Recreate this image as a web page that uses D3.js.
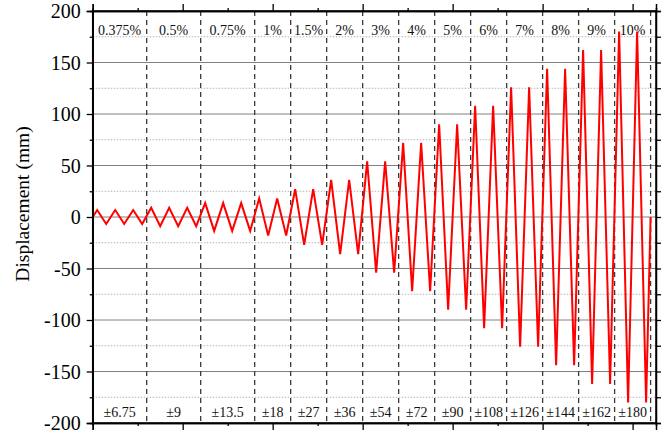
<!DOCTYPE html>
<html>
<head>
<meta charset="utf-8">
<script src="https://cdn.jsdelivr.net/npm/d3@7"></script>
</head>
<body style="margin:0">
<svg id="chart" width="672" height="434"></svg>
<script>
// loading protocol
const stages = ['0.375%', '0.5%', '0.75%', '1%', '1.5%', '2%', '3%', '4%', '5%', '6%', '7%', '8%', '9%', '10%'];
const amplitudes = [6.75, 9, 13.5, 18, 27, 36, 54, 72, 90, 108, 126, 144, 162, 180];
const ampLabels = ['±6.75', '±9', '±13.5', '±18', '±27', '±36', '±54', '±72', '±90', '±108', '±126', '±144', '±162', '±180'];
const cyclesPerStage = [3, 3, 3, 2, 2, 2, 2, 2, 2, 2, 2, 2, 2, 2];
const yTicks = [-200, -150, -100, -50, 0, 50, 100, 150, 200];
const yMinorTicks = [-175, -125, -75, -25, 25, 75, 125, 175];
const xTicks = [0, 5, 10, 15, 20, 25, 30];
const xMinorTicks = [2.5, 7.5, 12.5, 17.5, 22.5, 27.5];

const plot = { left: 92.7, right: 656, top: 11, bottom: 423 };
const serif = '"Liberation Serif"';

const svg = d3.select('#chart')
    .style('font-family', serif);

const xScale = d3.scaleLinear().domain([0, 31.3]).range([plot.left, plot.right]);
const yScale = d3.scaleLinear().domain([-200, 200]).range([plot.bottom, plot.top]);

// stage boundaries in cycle units
let bounds = [0];
cyclesPerStage.forEach(c => bounds.push(bounds[bounds.length - 1] + c));

// displacement history: each cycle peaks at +A at 1/4 and -A at 3/4
let points = [{ x: 0, y: 0 }];
stages.forEach((s, i) => {
    for (let k = 0; k < cyclesPerStage[i]; k++) {
        const start = bounds[i] + k;
        points.push({ x: start + 0.25, y: amplitudes[i] });
        points.push({ x: start + 0.75, y: -amplitudes[i] });
    }
});
points.push({ x: bounds[bounds.length - 1], y: 0 });

function addLabel(g, x, y, txt, size) {
    return g.append('text')
        .attr('x', x)
        .attr('y', y)
        .style('font-family', serif)
        .style('font-size', size)
        .text(txt);
}

function drawGrid() {
    svg.append('g')
        .selectAll('line')
        .data(yMinorTicks)
        .join('line')
        .attr('x1', plot.left)
        .attr('x2', plot.right)
        .attr('y1', d => yScale(d))
        .attr('y2', d => yScale(d))
        .attr('stroke', '#b4b4b4')
        .attr('stroke-width', 1)
        .attr('stroke-dasharray', '1.5,1.5');

    svg.append('g')
        .selectAll('line')
        .data(yTicks.filter(d => d > -200 && d < 200))
        .join('line')
        .attr('x1', plot.left)
        .attr('x2', plot.right)
        .attr('y1', d => yScale(d))
        .attr('y2', d => yScale(d))
        .attr('stroke', '#808080')
        .attr('stroke-width', 1);
}

function drawStageLines() {
    svg.append('g')
        .selectAll('line')
        .data(bounds.slice(1))
        .join('line')
        .attr('x1', d => xScale(d))
        .attr('x2', d => xScale(d))
        .attr('y1', plot.top)
        .attr('y2', plot.bottom)
        .attr('stroke', '#3a3a3a')
        .attr('stroke-width', 1.3)
        .attr('stroke-dasharray', '5,4');
}

function drawStageLabels() {
    const g = svg.append('g').attr('text-anchor', 'middle').attr('fill', '#111');
    stages.forEach((s, i) => {
        const xm = xScale((bounds[i] + bounds[i + 1]) / 2);
        addLabel(g, xm, 35, s, '14px');
        addLabel(g, xm, 416.5, ampLabels[i], '14px');
    });
}

function drawSeries() {
    const line = d3.line()
        .x(d => xScale(d.x))
        .y(d => yScale(d.y));

    svg.append('path')
        .datum(points)
        .attr('d', line)
        .attr('fill', 'none')
        .attr('stroke', '#ff0000')
        .attr('stroke-width', 2);
}

function drawAxes() {
    // left axis: ticks from d3, labels as plain serif text
    svg.append('g')
        .attr('transform', `translate(${plot.left},0)`)
        .call(d3.axisLeft(yScale).tickValues(yTicks).tickSize(6).tickFormat(''))
        .call(g => g.append('g').call(d3.axisLeft(yScale).tickValues(yMinorTicks).tickSize(3).tickFormat('')));

    const lab = svg.append('g').attr('text-anchor', 'end').attr('fill', '#000');
    yTicks.forEach(v => {
        addLabel(lab, plot.left - 12, yScale(v), String(v), '20px').attr('dy', '0.36em');
    });

    // right axis, ticks only
    svg.append('g')
        .attr('transform', `translate(${plot.right},0)`)
        .call(d3.axisRight(yScale).tickValues(yTicks.concat(yMinorTicks)).tickSize(5).tickFormat(''));

    // top and bottom axes, ticks only
    svg.append('g')
        .attr('transform', `translate(0,${plot.top})`)
        .call(d3.axisTop(xScale).tickValues(xTicks).tickSize(7).tickFormat(''))
        .call(g => g.append('g').call(d3.axisTop(xScale).tickValues(xMinorTicks).tickSize(3).tickFormat('')));

    svg.append('g')
        .attr('transform', `translate(0,${plot.bottom})`)
        .call(d3.axisBottom(xScale).tickValues(xTicks).tickSize(7).tickFormat(''))
        .call(g => g.append('g').call(d3.axisBottom(xScale).tickValues(xMinorTicks).tickSize(3).tickFormat('')));

    svg.selectAll('.domain')
        .attr('stroke', '#000')
        .attr('stroke-width', 1.5);
    svg.selectAll('.tick line')
        .attr('stroke', '#000')
        .attr('stroke-width', 1.3);

    // full frame
    svg.append('rect')
        .attr('x', plot.left)
        .attr('y', plot.top)
        .attr('width', plot.right - plot.left)
        .attr('height', plot.bottom - plot.top)
        .attr('fill', 'none')
        .attr('stroke', '#000')
        .attr('stroke-width', 1.5);
}

function drawTitle() {
    const g = svg.append('g')
        .attr('transform', 'translate(29,204) rotate(-90)')
        .attr('text-anchor', 'middle')
        .attr('fill', '#000');
    addLabel(g, 0, 0, 'Displacement (mm)', '19.5px');
}

drawGrid();
drawStageLines();
drawStageLabels();
drawSeries();
drawAxes();
drawTitle();
</script>
</body>
</html>
